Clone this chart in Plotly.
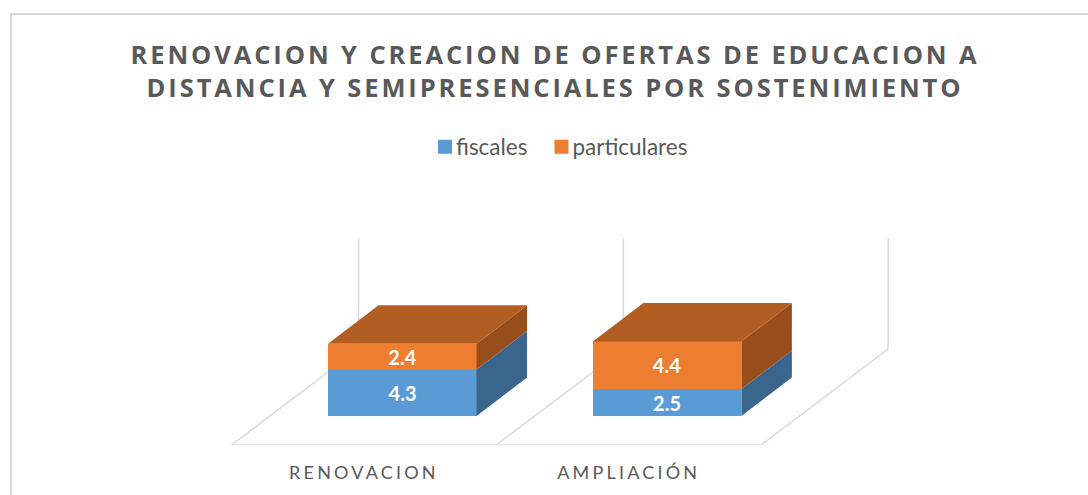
import plotly.graph_objects as go

# ---- data ----
categories = ["RENOVACION", "AMPLIACIÓN"]
fiscales = [4.3, 2.5]
particulares = [2.4, 4.4]
title_lines = ["RENOVACION Y CREACION DE OFERTAS DE EDUCACION A",
               "DISTANCIA Y SEMIPRESENCIALES POR SOSTENIMIENTO"]

# ---- colours ----
BLUE, ORANGE = "#5B9BD5", "#ED7D31"
BLUE_SIDE, ORANGE_SIDE, ORANGE_TOP = "#3A668D", "#974E1C", "#B25D22"
GRID, TEXT = "#D9D9D9", "#595959"

# ---- oblique projection (axis units: x = category, y = value) ----
W, H = 1088, 495
PX_PER_CAT, PX_PER_VAL = 264.8, 10.8
BAR_W = 148.5 / PX_PER_CAT
ORIGIN_X, ORIGIN_Y = 402.3, 416          # pixel of category 0, value 0
FLOOR_PX = 445
DEPTH_X, DEPTH_Y = 50.5 / PX_PER_CAT, 38.5 / PX_PER_VAL    # bar depth
FLOOR_DX, FLOOR_DY = 127 / PX_PER_CAT, 96 / PX_PER_VAL     # floor depth
FLOOR_Y = -(FLOOR_PX - ORIGIN_Y) / PX_PER_VAL
WALL_TOP = (ORIGIN_Y - 239) / PX_PER_VAL
FRONT_SHIFT = (FLOOR_DX / FLOOR_DY) * (-FLOOR_Y)           # bar front to floor edge
xs = list(range(len(categories)))
tick_x = [x - FRONT_SHIFT for x in xs]

fig = go.Figure()
for name, vals, col in [("fiscales", fiscales, BLUE), ("particulares", particulares, ORANGE)]:
    fig.add_trace(go.Bar(
        x=xs, y=vals, name=name, width=BAR_W,
        marker=dict(color=col, line=dict(width=0)),
        text=[f"{v:.1f}" for v in vals], textposition="inside",
        insidetextanchor="middle", constraintext="none", textangle=0,
        textfont=dict(family="Lato", size=20, color="white", weight="bold"),
        hoverinfo="skip"))


def poly(px, py, col):
    fig.add_trace(go.Scatter(x=px, y=py, mode="lines", fill="toself", fillcolor=col,
                             line=dict(width=0), showlegend=False, hoverinfo="skip"))


for i, x in enumerate(xs):
    r, l = x + BAR_W / 2, x - BAR_W / 2
    a, b = fiscales[i], fiscales[i] + particulares[i]
    poly([r, r + DEPTH_X, r + DEPTH_X, r], [0, DEPTH_Y, a + DEPTH_Y, a], BLUE_SIDE)
    poly([r, r + DEPTH_X, r + DEPTH_X, r], [a, a + DEPTH_Y, b + DEPTH_Y, b], ORANGE_SIDE)
    poly([l, r, r + DEPTH_X, l + DEPTH_X], [b, b, b + DEPTH_Y, b + DEPTH_Y], ORANGE_TOP)

# floor and walls, behind the bars
edges = [t - 0.5 for t in tick_x] + [tick_x[-1] + 0.5]
shapes = []


def seg(x0, y0, x1, y1):
    shapes.append(dict(type="line", layer="below", xref="x", yref="y", x0=x0, y0=y0, x1=x1, y1=y1,
                       line=dict(color=GRID, width=1.5)))


seg(edges[0], FLOOR_Y, edges[-1], FLOOR_Y)
for e in edges:
    seg(e, FLOOR_Y, e + FLOOR_DX, FLOOR_Y + FLOOR_DY)
    seg(e + FLOOR_DX, FLOOR_Y + FLOOR_DY, e + FLOOR_DX, WALL_TOP)

# outer frame of the picture
plot_h = FLOOR_PX
shapes.append(dict(type="path", layer="below", xref="paper", yref="paper",
                   path=f"M {11/W} {-(H-FLOOR_PX)/plot_h} L {11/W} {(plot_h-14)/plot_h} L 1 {(plot_h-14)/plot_h}",
                   line=dict(color="#D9D9D9", width=2)))

fig.update_layout(
    width=W, height=H, margin=dict(l=0, r=0, t=0, b=H - FLOOR_PX),
    paper_bgcolor="white", plot_bgcolor="white", barmode="stack", bargap=0,
    showlegend=True, shapes=shapes,
    title=dict(text="<br>".join(title_lines), x=555 / W, xanchor="center",
               y=1 - 63.5 / H, yanchor="middle", xref="paper", yref="container",
               font=dict(family="Open Sans", size=25.5, color=TEXT, weight="bold")),
    legend=dict(orientation="h", x=416 / W, xanchor="left", y=1 - 147 / FLOOR_PX, yanchor="middle",
                font=dict(family="Lato", size=22.5, color=TEXT), itemclick=False, itemdoubleclick=False,
                traceorder="normal"),
    xaxis=dict(range=[-ORIGIN_X / PX_PER_CAT, (W - ORIGIN_X) / PX_PER_CAT],
               tickmode="array", tickvals=tick_x, ticktext=categories,
               tickfont=dict(family="Lato", size=18, color=TEXT),
               showgrid=False, zeroline=False, showline=False,
               ticks="outside", ticklen=11, tickcolor="rgba(0,0,0,0)"),
    yaxis=dict(range=[FLOOR_Y, ORIGIN_Y / PX_PER_VAL], showticklabels=False,
               showgrid=False, zeroline=False, showline=False, ticks=""),
)

post = """
document.body.style.margin = '0';
document.body.style.overflow = 'hidden';
document.querySelectorAll('.gtitle').forEach(e => e.style.letterSpacing = '2.9px');
document.querySelectorAll('.xtick text').forEach(e => e.style.letterSpacing = '3.2px');
document.querySelectorAll('.legend .legendsymbols').forEach(e => e.setAttribute('transform', 'translate(9,0)'));
document.querySelectorAll('.legend .legendpoints path').forEach(e => e.setAttribute('d', 'M7,7H-7V-7H7Z'));
"""
fig.write_html("out.html", config=dict(displayModeBar=False), post_script=post)
